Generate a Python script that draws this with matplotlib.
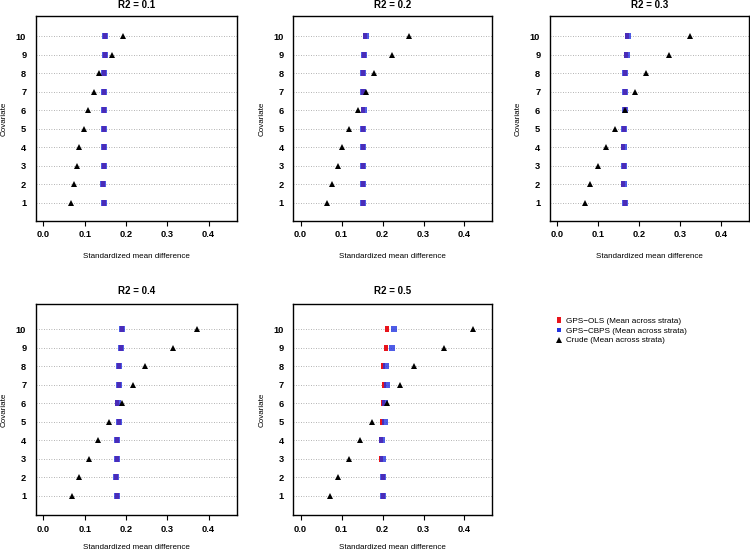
import matplotlib
matplotlib.use("Agg")
import matplotlib.pyplot as plt
from matplotlib.lines import Line2D
import numpy as np

plt.rcParams['font.family'] = ['Liberation Sans', 'DejaVu Sans']

covariates = list(range(1, 11))
titles = ["R2 = 0.1", "R2 = 0.2", "R2 = 0.3", "R2 = 0.4", "R2 = 0.5"]
x_ticks = [0.0, 0.1, 0.2, 0.3, 0.4]

crude1 = [0.066, 0.074, 0.081, 0.087, 0.098, 0.109, 0.123, 0.134, 0.167, 0.193]
ols1 = [0.146, 0.145, 0.146, 0.146, 0.146, 0.146, 0.147, 0.147, 0.148, 0.148]
cbps1 = [0.146, 0.145, 0.146, 0.146, 0.146, 0.146, 0.146, 0.147, 0.149, 0.148]

crude2 = [0.065, 0.076, 0.090, 0.102, 0.119, 0.139, 0.160, 0.178, 0.224, 0.264]
ols2 = [0.152, 0.152, 0.153, 0.153, 0.153, 0.152, 0.152, 0.152, 0.155, 0.158]
cbps2 = [0.153, 0.153, 0.153, 0.153, 0.153, 0.154, 0.153, 0.153, 0.155, 0.159]

crude3 = [0.068, 0.079, 0.100, 0.118, 0.140, 0.166, 0.190, 0.216, 0.273, 0.323]
ols3 = [0.164, 0.161, 0.162, 0.161, 0.163, 0.165, 0.165, 0.166, 0.167, 0.170]
cbps3 = [0.165, 0.162, 0.163, 0.162, 0.163, 0.165, 0.165, 0.166, 0.169, 0.172]

crude4 = [0.070, 0.086, 0.110, 0.132, 0.158, 0.191, 0.218, 0.247, 0.313, 0.373]
ols4 = [0.178, 0.176, 0.178, 0.178, 0.182, 0.179, 0.182, 0.182, 0.187, 0.190]
cbps4 = [0.179, 0.176, 0.179, 0.179, 0.183, 0.181, 0.183, 0.183, 0.188, 0.190]

crude5 = [0.071, 0.091, 0.117, 0.144, 0.175, 0.210, 0.242, 0.276, 0.351, 0.420]
ols5 = [0.200, 0.200, 0.197, 0.197, 0.199, 0.201, 0.203, 0.201, 0.209, 0.211]
cbps5 = [0.200, 0.200, 0.200, 0.198, 0.205, 0.205, 0.210, 0.209, 0.223, 0.228]

crude_all = [crude1, crude2, crude3, crude4, crude5]
ols_all = [ols1, ols2, ols3, ols4, ols5]
cbps_all = [cbps1, cbps2, cbps3, cbps4, cbps5]

legend_labels = ["GPS\u2212OLS (Mean across strata)",
                 "GPS\u2212CBPS (Mean across strata)",
                 "Crude (Mean across strata)"]

W, H = 750, 552
fig = plt.figure(figsize=(7.5, 5.52), dpi=100)

# panel boxes in pixels: left, right, top, bottom
boxes = [(36, 236.7, 16, 220.7), (293.3, 492.3, 16, 220.7), (550, 749, 16, 220.7),
         (36, 236.7, 304.3, 515), (293.3, 492.3, 304.3, 515)]
ylims = [(0.03, 11.08)] * 3 + [(-0.03, 11.35)] * 2
title_gap = [10.5] * 3 + [13] * 2
xlabel_gap = [36] * 3 + [32.5] * 2

RED = '#e8141c'
BLUE = '#2233e0'
rect_marker = [(-0.7, -1), (0.7, -1), (0.7, 1), (-0.7, 1), (-0.7, -1)]

for i in range(5):
    L, R, T, B = boxes[i]
    w, h = R - L, B - T
    ax = fig.add_axes([L / W, 1 - B / H, w / W, h / H])
    ax.set_xlim(-0.018, 0.468)
    ax.set_ylim(*ylims[i])
    ax.set_yticks(covariates)
    ax.set_yticklabels([str(c) for c in covariates], fontweight='bold', fontsize=6.7)
    ax.set_xticks(x_ticks)
    ax.set_xticklabels([f"{t:.1f}" for t in x_ticks], fontweight='bold', fontsize=6.7)
    ax.tick_params(axis='x', direction='out', length=3.5, width=0.8, pad=3.5)
    ax.tick_params(axis='y', length=0, pad=7)
    ax.yaxis.grid(True, linestyle=(0, (1, 2)), color='#9a9a9a', linewidth=0.6)
    ax.set_axisbelow(True)
    for s in ax.spines.values():
        s.set_linewidth(1.0)
        s.set_color('black')
    ax.plot(ols_all[i], covariates, linestyle='none', marker=rect_marker,
            markersize=4.8, color=RED, markeredgewidth=0, zorder=3)
    ax.plot(cbps_all[i], covariates, linestyle='none', marker='s',
            markersize=3.7, color=BLUE, alpha=0.8, markeredgewidth=0, zorder=4)
    ax.plot(crude_all[i], covariates, linestyle='none', marker='^',
            markersize=5.0, color='black', markeredgewidth=0, zorder=5)
    ax.text(0.5, 1 + title_gap[i] / h, titles[i], transform=ax.transAxes, ha='center',
            va='center', fontweight='bold', fontsize=7)
    ax.text(0.5, -xlabel_gap[i] / h, "Standardized mean difference", transform=ax.transAxes,
            ha='center', va='center', fontsize=5.8)
    ax.text(-31.5 / w, 0.5, "Covariate", transform=ax.transAxes, rotation=90,
            ha='center', va='center', fontsize=5.8)

handles = [
    Line2D([], [], linestyle='none', marker=rect_marker, markersize=4.6, color=RED, markeredgewidth=0),
    Line2D([], [], linestyle='none', marker='s', markersize=3.4, color=BLUE, markeredgewidth=0),
    Line2D([], [], linestyle='none', marker='^', markersize=4.0, color='black', markeredgewidth=0),
]
fig.legend(handles, legend_labels, loc='upper left',
           bbox_to_anchor=(552 / W, 1 - 313 / H), frameon=False, fontsize=5.9,
           handlelength=0.8, handletextpad=0.4, labelspacing=0.25, borderpad=0)

fig.savefig("out.png", dpi=100)
